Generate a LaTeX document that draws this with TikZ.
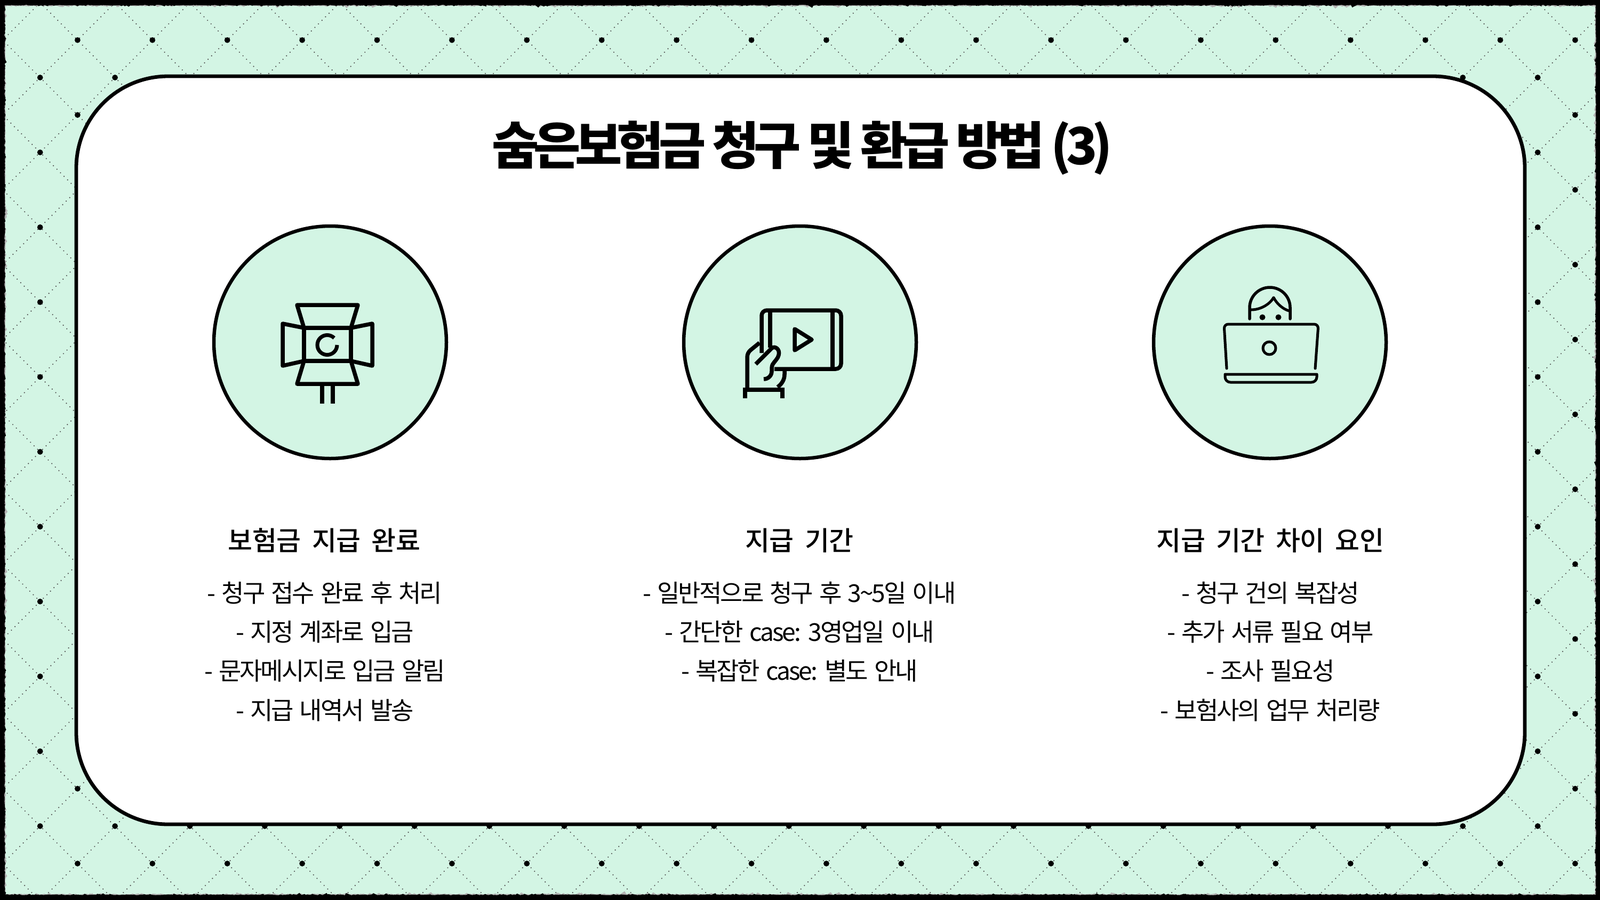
\documentclass[tikz,border=0pt]{standalone}
\usepackage{fontspec}
\usepackage{tikz}
\usetikzlibrary{decorations.pathmorphing}
\setmainfont{Noto Sans CJK KR}
\newfontfamily\titlefont[LetterSpace=-10.5]{Noto Sans CJK KR Black}
\newfontfamily\headfont[LetterSpace=-1,WordSpace=1.9]{Noto Sans CJK KR Medium}
\newfontfamily\linefont[LetterSpace=-6.5,WordSpace=1.5]{Noto Sans CJK KR}
\definecolor{mintbg}{HTML}{D3F5E4}
\tikzset{
    titletext/.style={font=\titlefont\fontsize{27.3pt}{30pt}\selectfont,anchor=base,inner sep=0pt},
    headtext/.style={font=\headfont\fontsize{14.2pt}{16pt}\selectfont,anchor=base,inner sep=0pt},
    linetext/.style={font=\linefont\fontsize{13.1pt}{15pt}\selectfont,anchor=base,inner sep=0pt},
    badge/.style={draw=black,fill=mintbg,line width=0.065cm},
    iconline/.style={line width=0.075cm,line join=round},
    thinline/.style={line width=0.05cm,line join=round,line cap=round},
    latticeline/.style={line width=0.017cm,black!70,dash pattern=on 0.017cm off 0.077cm},
    roughedge/.style={decorate,decoration={random steps,segment length=0.02cm,amplitude=0.008cm}},
}
\begin{document}
\begin{tikzpicture}[x=0.01cm,y=-0.01cm]
    \clip (0,0) rectangle (3000,1687);
    \fill[mintbg] (0,0) rectangle (3000,1687);
    % lattice
    \foreach \c in {1,3,...,67} {
        \draw[latticeline] ({5+70.2*(\c+2)},{5-140.4}) -- ({5+70.2*(\c-30)},{5+70.2*30});
    }
    \foreach \c in {-31,-29,...,45} {
        \draw[latticeline] ({5+70.2*(\c-2)},{5-140.4}) -- ({5+70.2*(\c+30)},{5+70.2*30});
    }
    % rough frame
    \draw[black!30,line width=0.235cm,roughedge] (-2,-1) rectangle (3003,1689);
    \draw[black,line width=0.21cm,roughedge] (-2,-1) rectangle (3003,1689);
    \foreach \i in {0,...,42} {
        \foreach \j in {0,...,24} {
            \pgfmathparse{int(mod(\i+\j,2))}
            \ifnum\pgfmathresult=1
                \fill[black] ({5+70.2*\i},{5+70.2*\j}) circle[radius=5.4];
            \fi
        }
    }
    % panel
    \draw[black,fill=white,line width=0.068cm,rounded corners=1.72cm] (143,143) rectangle (2859,1546);
    \node[titletext] at (1504,308) (title) {숨은보험금 청구 및 환급 방법 (3)};
    % badges
    \draw[badge] (619,642) circle[radius=218];
    \draw[badge] (1500,642) circle[radius=218];
    \draw[badge] (2381,642) circle[radius=218];
    % lamp
    \draw[iconline] (570,615) rectangle (658,677);
    \draw[iconline] (570,615) -- (557,572) -- (671,572) -- (658,615);
    \draw[iconline] (570,677) -- (557,720) -- (671,720) -- (658,677);
    \draw[iconline] (570,615) -- (530,607) -- (530,686) -- (570,677);
    \draw[iconline] (658,615) -- (698,607) -- (698,686) -- (658,677);
    \draw[iconline] (604,720) -- (604,757);
    \draw[iconline] (624,720) -- (624,757);
    \draw[line width=0.07cm] (632,647) arc[start angle=0,end angle=315,radius=18.5];
    % tablet
    \draw[iconline,rounded corners=0.1cm] (1428,662) -- (1428,582) -- (1577,582) -- (1577,692) -- (1452,692);
    \draw[iconline] (1444,582) -- (1444,652);
    \draw[iconline] (1561,582) -- (1561,692);
    \draw[iconline] (1490,617) -- (1490,657) -- (1522,637) -- cycle;
    \draw[iconline] (1393,731) -- (1471,731);
    \draw[iconline] (1397,731) -- (1397,747);
    \draw[iconline] (1467,731) -- (1467,747);
    \draw[iconline] (1401,731) -- (1401,670) .. controls (1401,664) and (1404,659) .. (1408,656) -- (1424,643);
    \draw[iconline] (1417,683) -- (1447,653) .. controls (1453,648) and (1463,655) .. (1460,666) .. controls (1459,672) and (1452,678) .. (1449,683) .. controls (1447,686) and (1447,690) .. (1447,696) .. controls (1447,705) and (1440,711) .. (1432,711);
    \draw[iconline] (1471,692) -- (1471,702) .. controls (1471,712) and (1466,720) .. (1458,726);
    % laptop
    \draw[thinline,line width=0.055cm] (2343,598) -- (2343,577) arc[start angle=180,end angle=360,radius=38] -- (2419,598);
    \draw[thinline] (2346,581) .. controls (2362,581) and (2380,572) .. (2388,558) .. controls (2394,570) and (2406,580) .. (2417,583);
    \fill[black] (2367,595) circle[radius=5.5];
    \fill[black] (2397,595) circle[radius=5.5];
    \draw[thinline,rounded corners=0.08cm] (2300,691) -- (2295,608) -- (2472,608) -- (2466,691);
    \draw[thinline] (2380,653) circle[radius=12];
    \draw[thinline] (2297,702) -- (2469,702) -- (2469,707) arc[start angle=0,end angle=90,radius=10] -- (2307,717) arc[start angle=90,end angle=180,radius=10] -- cycle;
    % first column
    \node[headtext] at (608,1032) (heada) {보험금 지급 완료};
    \node[linetext] at (609,1129) (aa) {- 청구 접수 완료 후 처리};
    \node[linetext] at (609,1202) (ab) {- 지정 계좌로 입금};
    \node[linetext] at (609,1275) (ac) {- 문자메시지로 입금 알림};
    \node[linetext] at (609,1349) (ad) {- 지급 내역서 발송};
    % second column
    \node[headtext] at (1499,1032) (headb) {지급 기간};
    \node[linetext] at (1499,1129) (ba) {- 일반적으로 청구 후 3\textasciitilde 5일 이내};
    \node[linetext] at (1499,1202) (bb) {- 간단한 case: 3영업일 이내};
    \node[linetext] at (1499,1275) (bc) {- 복잡한 case: 별도 안내};
    % third column
    \node[headtext] at (2382,1032) (headc) {지급 기간 차이 요인};
    \node[linetext] at (2382,1129) (ca) {- 청구 건의 복잡성};
    \node[linetext] at (2382,1202) (cb) {- 추가 서류 필요 여부};
    \node[linetext] at (2382,1275) (cc) {- 조사 필요성};
    \node[linetext] at (2382,1349) (cd) {- 보험사의 업무 처리량};
\end{tikzpicture}
\end{document}
